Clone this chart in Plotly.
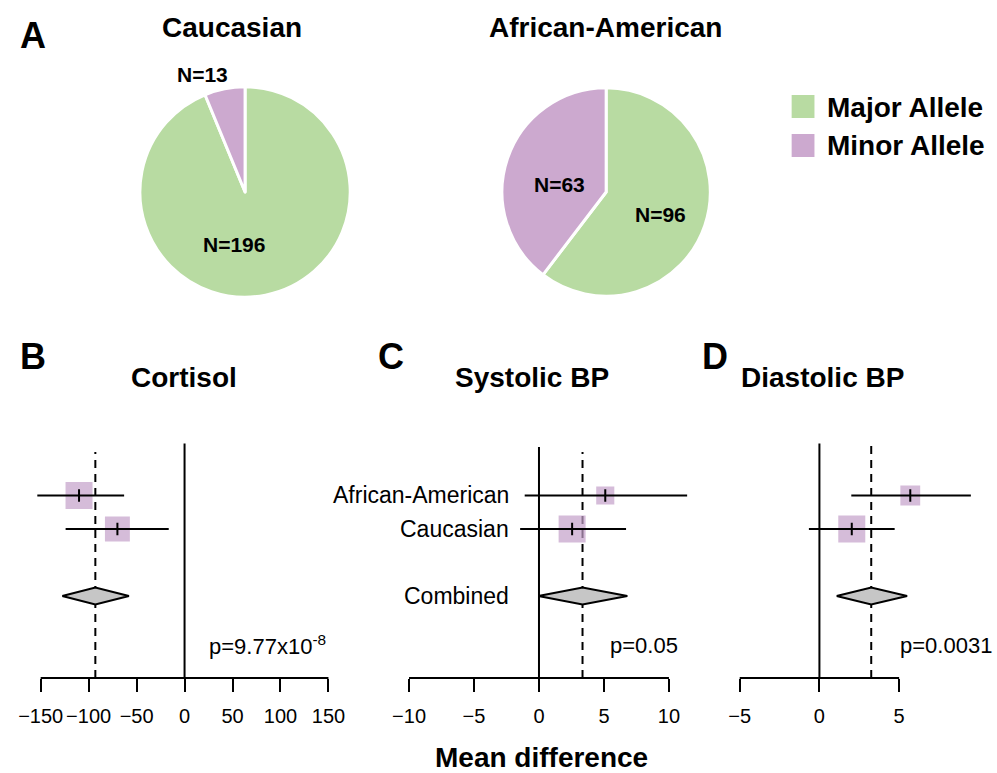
import plotly.graph_objects as go

W, H = 997, 773
OFF = 0
FONT = "Liberation Sans, Arial, sans-serif"

# ---------------- data ----------------
alleles = ["Major Allele", "Minor Allele"]
pie_groups = ["Caucasian", "African-American"]
caucasian_counts = [196, 13]
african_american_counts = [96, 63]

studies = ["African-American", "Caucasian"]
combined_label = "Combined"
outcomes = ["Cortisol", "Systolic BP", "Diastolic BP"]
panel_letters = ["B", "C", "D"]

cortisol_mean = [-110, -70]
cortisol_lo = [-153.5, -124]
cortisol_hi = [-63, -16.5]
cortisol_weight = [0.54, 0.46]
cortisol_comb = [-93, -127.5, -58]          # mean, lower, upper

systolic_mean = [5.1, 2.55]
systolic_lo = [-1.1, -1.45]
systolic_hi = [11.4, 6.7]
systolic_weight = [0.31, 0.69]
systolic_comb = [3.35, -0.05, 6.8]

diastolic_mean = [5.7, 2.03]
diastolic_lo = [2.0, -0.66]
diastolic_hi = [9.5, 4.72]
diastolic_weight = [0.35, 0.65]
diastolic_comb = [3.25, 1.08, 5.5]

p_values = ["9.77x10<sup>-8</sup>", "0.05", "0.0031"]

cortisol_ticks = [-150, -100, -50, 0, 50, 100, 150]
systolic_ticks = [-10, -5, 0, 5, 10]
diastolic_ticks = [-5, 0, 5]

# ---------------- style ----------------
GREEN = "#b8dba2"
PURPLE = "#cca9cf"
SQ_PURPLE = "#c3a0c9"
DIAMOND = "#c6c6c6"

fig = go.Figure()

def px(x):
    return (x - OFF) / W

def py(y):
    return 1 - (y - OFF) / H

# ---------- pies ----------
pie_specs = [
    (caucasian_counts, [px(135), px(347)], [py(298), py(86)]),
    (african_american_counts, [px(500), px(710)], [py(297), py(87)]),
]
for counts, dx, dy in pie_specs:
    fig.add_trace(go.Pie(
        labels=alleles, values=counts, sort=False, direction="clockwise",
        rotation=0, textinfo="none", hoverinfo="label+value",
        marker=dict(colors=[GREEN, PURPLE], line=dict(color="white", width=3)),
        domain=dict(x=dx, y=dy), showlegend=False,
    ))

annotations = []
def ann(text, x, y, size, bold=False, xanchor="center", xref="paper", yref="paper"):
    annotations.append(dict(
        text=f"<b>{text}</b>" if bold else text, x=x, y=y, xref=xref, yref=yref,
        xanchor=xanchor, yanchor="middle", showarrow=False,
        font=dict(family=FONT, size=size, color="black"),
    ))

ann("A", px(27), py(36), 36, True)
ann(pie_groups[0], px(228), py(27), 28, True)
ann(pie_groups[1], px(604), py(27), 28, True)
ann(f"N={caucasian_counts[1]}", px(198), py(75), 21, True)
ann(f"N={caucasian_counts[0]}", px(230), py(244), 21, True)
ann(f"N={african_american_counts[1]}", px(558), py(185), 21, True)
ann(f"N={african_american_counts[0]}", px(660), py(215), 21, True)

# manual legend
shapes = []
for i, (lab, col) in enumerate(zip(alleles, [GREEN, PURPLE])):
    top = 95 + i * 39
    shapes.append(dict(type="rect", xref="paper", yref="paper",
                       x0=px(792), x1=px(815), y0=py(top + 23), y1=py(top),
                       fillcolor=col, line=dict(width=0)))
    ann(lab, px(826), py(top + 12), 28, True, xanchor="left")

# ---------- forest plots ----------
ROW_Y = [4, 3]
COMB_Y = 1
PXU = 33.5               # pixels per y-unit
Y0PX = 596               # reference pixel of y = 1
YR = [-2.0, 6.0]
AXIS_Y = 1 - (678 - Y0PX) / PXU
ydom = [py(Y0PX + (COMB_Y - YR[0]) * PXU), py(Y0PX - (YR[1] - COMB_Y) * PXU)]
axis_pos = py(678)

panels = [
    dict(mean=cortisol_mean, lo=cortisol_lo, hi=cortisol_hi, w=cortisol_weight,
         comb=cortisol_comb, ticks=cortisol_ticks, px0=180, k=0.967, rng=[-170, 165],
         dash_top=5.3, zero_top=5.55, p_right=325, title_x=179, letter_x=27),
    dict(mean=systolic_mean, lo=systolic_lo, hi=systolic_hi, w=systolic_weight,
         comb=systolic_comb, ticks=systolic_ticks, px0=537.3, k=13.1, rng=[-10.8, 12.0],
         dash_top=5.3, zero_top=5.45, p_right=679, title_x=530, letter_x=388),
    dict(mean=diastolic_mean, lo=diastolic_lo, hi=diastolic_hi, w=diastolic_weight,
         comb=diastolic_comb, ticks=diastolic_ticks, px0=820, k=16.07, rng=[-5.6, 10.6],
         dash_top=5.55, zero_top=5.55, p_right=996, title_x=823, letter_x=715),
]

MAX_SQ = 27
layout_axes = {}
for i, p in enumerate(panels):
    n = "" if i == 0 else str(i + 1)
    xa, ya = "x" + n, "y" + n
    xdom = [px(p["px0"] + p["rng"][0] * p["k"]), px(p["px0"] + p["rng"][1] * p["k"])]
    layout_axes["xaxis" + n] = dict(
        domain=xdom, range=p["rng"], anchor="free", position=axis_pos,
        tickvals=p["ticks"], ticks="outside", ticklen=13, tickwidth=2, tickcolor="black",
        ticklabelstandoff=7, tickangle=0,
        showline=False, showgrid=False, zeroline=False, fixedrange=True,
        tickfont=dict(family=FONT, size=20, color="black"),
    )
    layout_axes["yaxis" + n] = dict(domain=ydom, range=YR, visible=False,
                                    anchor=xa, fixedrange=True)

    # axis line
    fig.add_trace(go.Scatter(x=[p["ticks"][0], p["ticks"][-1]], y=[AXIS_Y, AXIS_Y],
                             mode="lines", line=dict(color="black", width=2),
                             xaxis=xa, yaxis=ya, hoverinfo="skip", showlegend=False))
    # zero line
    fig.add_trace(go.Scatter(x=[0, 0], y=[AXIS_Y, p["zero_top"]], mode="lines",
                             line=dict(color="black", width=2),
                             xaxis=xa, yaxis=ya, hoverinfo="skip", showlegend=False))
    # dashed combined line
    cm, cl, ch = p["comb"]
    fig.add_trace(go.Scatter(x=[cm, cm], y=[AXIS_Y, p["dash_top"]], mode="lines",
                             line=dict(color="black", width=2, dash="8px,6px"),
                             xaxis=xa, yaxis=ya, hoverinfo="skip", showlegend=False))
    # squares
    wmax = max(p["w"])
    sizes = [MAX_SQ * (w / wmax) ** 0.5 for w in p["w"]]
    fig.add_trace(go.Scatter(x=p["mean"], y=ROW_Y, mode="markers",
                             marker=dict(symbol="square", size=sizes, color=SQ_PURPLE,
                                         line=dict(width=0)),
                             xaxis=xa, yaxis=ya, showlegend=False))
    # CI lines
    cx, cy = [], []
    for lo, hi, yv in zip(p["lo"], p["hi"], ROW_Y):
        cx += [lo, hi, None]
        cy += [yv, yv, None]
    fig.add_trace(go.Scatter(x=cx, y=cy, mode="lines", line=dict(color="black", width=2),
                             xaxis=xa, yaxis=ya, hoverinfo="skip", showlegend=False))
    # estimate ticks
    fig.add_trace(go.Scatter(x=p["mean"], y=ROW_Y, mode="markers",
                             marker=dict(symbol="line-ns-open", size=9, color="black",
                                         line=dict(color="black", width=2)),
                             xaxis=xa, yaxis=ya, showlegend=False))
    # diamond
    hh = 8.5 / PXU
    fig.add_trace(go.Scatter(x=[cl, cm, ch, cm, cl], y=[COMB_Y, COMB_Y + hh, COMB_Y, COMB_Y - hh, COMB_Y],
                             mode="lines", fill="toself", fillcolor=DIAMOND,
                             line=dict(color="black", width=2),
                             xaxis=xa, yaxis=ya, showlegend=False))

    ann(panel_letters[i], px(p["letter_x"]), py(357), 36, True)
    ann(outcomes[i], px(p["title_x"]), py(377), 28, True)
    ann(f"p={p_values[i]}", px(p["p_right"]), py(645), 22, False, xanchor="right")

# row labels (panel C)
for lab, yv in zip(studies + [combined_label], ROW_Y + [COMB_Y]):
    ann(lab, px(509), yv, 23, False, xanchor="right", yref="y2")

ann("Mean difference", px(540), py(757), 28, True)

fig.update_layout(
    width=W, height=H, margin=dict(l=0, r=0, t=0, b=0),
    paper_bgcolor="white", plot_bgcolor="white",
    showlegend=False, annotations=annotations, shapes=shapes,
    font=dict(family=FONT, color="black"),
    **layout_axes,
)

fig.write_html(
    "out.html",
    config={"displayModeBar": False},
    post_script="document.body.style.margin='0px';document.body.style.overflow='hidden';",
)
